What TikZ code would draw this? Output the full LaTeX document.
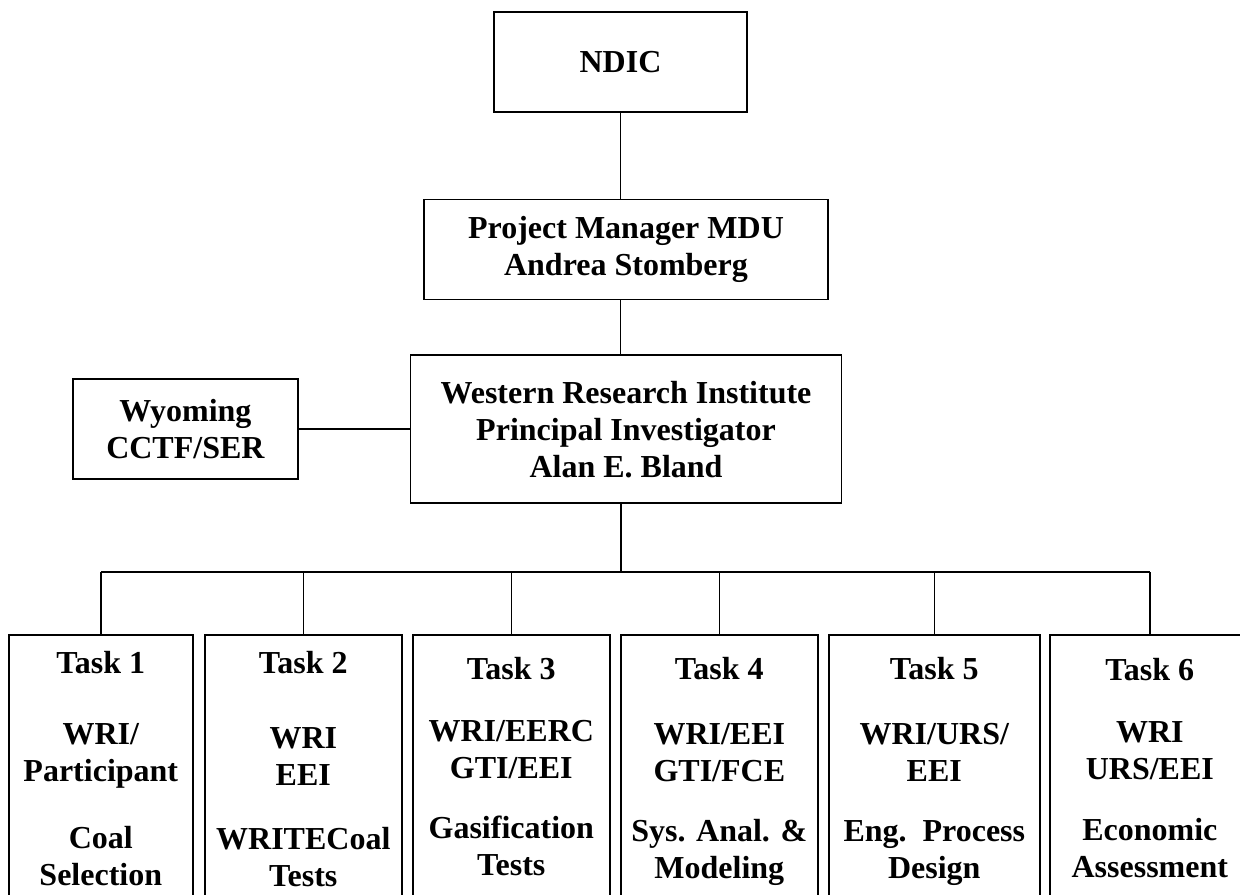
\documentclass[tikz,border=0pt]{standalone}
\usepackage{fontspec}
\setmainfont{Liberation Serif}
\usepackage{tikz}
\usetikzlibrary{positioning}

\tikzset{
  orgbox/.style = {draw, line width = 0.8pt, align = center, inner sep = 0pt,
    font = \bfseries\fontsize{16}{18.5}\selectfont},
  taskbox/.style = {draw, line width = 0.8pt, anchor = north west, minimum height = 138pt},
  tasktext/.style = {anchor = north, align = center, inner sep = 0pt,
    font = \bfseries\fontsize{16}{18.5}\selectfont},
  link/.style = {line width = 0.8pt}
}

\begin{document}
\begin{tikzpicture}[x = 0.5pt, y = -0.5pt]

\clip (0,0) rectangle (1240,894);

\node[orgbox, minimum width = 126.5pt, minimum height = 50pt] (NDIC) at (620.5,62) {NDIC};
\node[orgbox, minimum width = 202pt, minimum height = 50pt, below = 43pt of NDIC, xshift = 2.75pt] (PM) {Project Manager MDU\\Andrea Stomberg};
\node[orgbox, minimum width = 215.5pt, minimum height = 74pt, below = 27pt of PM] (WRI) {Western Research Institute\\Principal Investigator\\Alan E. Bland};
\node[orgbox, minimum width = 112.5pt, minimum height = 50pt, left = 55.5pt of WRI] (WY) {Wyoming\\CCTF/SER};

\node[taskbox, minimum width = 92pt] (T1) at (8,634) {};
\node[taskbox, minimum width = 98.5pt] (T2) at (204,634) {};
\node[taskbox, minimum width = 98.5pt] (T3) at (412,634) {};
\node[taskbox, minimum width = 98.5pt] (T4) at (620,634) {};
\node[taskbox, minimum width = 105.5pt] (T5) at (828,634) {};
\node[taskbox, minimum width = 100pt] (T6) at (1049,634) {};

\node[tasktext, yshift = -8.2pt] (T1-text) at (T1.north) {Task 1\\[17pt]WRI/\\Participant\\[15pt]Coal\\Selection};
\node[tasktext, yshift = -8.2pt] (T2-text) at (T2.north) {Task 2\\[19pt]WRI\\EEI\\[13.5pt]WRITECoal\\Tests};
\node[tasktext, yshift = -11.2pt] (T3-text) at (T3.north) {Task 3\\[12.5pt]WRI/EERC\\GTI/EEI\\[11.5pt]Gasification\\Tests};
\node[tasktext, yshift = -11.2pt] (T4-text) at (T4.north) {Task 4\\[14pt]WRI/EEI\\GTI/FCE\\[11.5pt]Sys. Anal. \&\\Modeling};
\node[tasktext, yshift = -11.2pt] (T5-text) at (T5.north) {Task 5\\[14pt]WRI/URS/\\EEI\\[11.5pt]Eng.\ \ Process\\Design};
\node[tasktext, yshift = -11.7pt] (T6-text) at (T6.north) {Task 6\\[12.5pt]WRI\\URS/EEI\\[12pt]Economic\\Assessment};

\coordinate (bus) at (621,572);

\draw[link] (NDIC.south) -- (NDIC.south |- PM.north);
\draw[link] (NDIC.south |- PM.south) -- (NDIC.south |- WRI.north);
\draw[link] (WY.east) -- (WY.east -| WRI.west);
\draw[link] (bus |- WRI.south) -- (bus);
\draw[link] (T1.north |- bus) -- (T6.north |- bus);
\draw[link] (T1.north |- bus) -- (T1.north);
\draw[link] (T2.north |- bus) -- (T2.north);
\draw[link] (T3.north |- bus) -- (T3.north);
\draw[link] (T4.north |- bus) -- (T4.north);
\draw[link] (T5.north |- bus) -- (T5.north);
\draw[link] (T6.north |- bus) -- (T6.north);

\end{tikzpicture}
\end{document}
